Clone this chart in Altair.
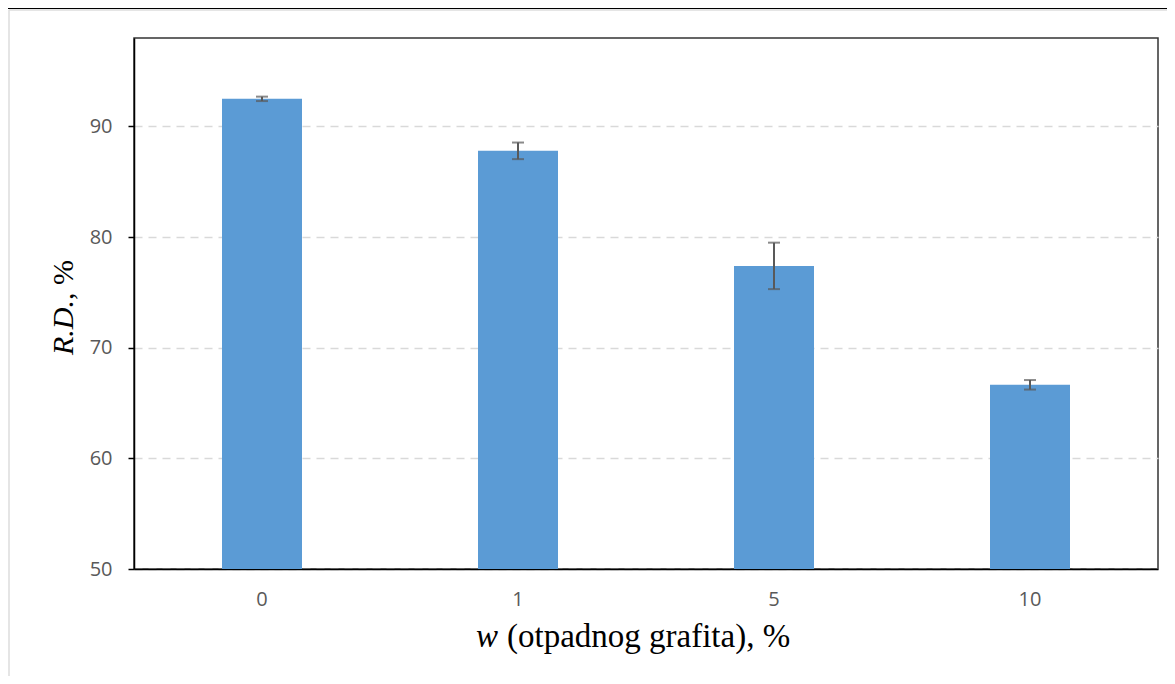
import altair as alt
import pandas as pd

# data
categories = ["0", "1", "5", "10"]
rd_values = [92.5, 87.8, 77.4, 66.65]
rd_errors = [0.2, 0.75, 2.1, 0.43]
y_ticks = [50, 60, 70, 80, 90]

df = pd.DataFrame({
    "cat": categories,
    "rd": rd_values,
    "lower": [v - e for v, e in zip(rd_values, rd_errors)],
    "upper": [v + e for v, e in zip(rd_values, rd_errors)],
})

W, H = 1024, 531
BAR = "#5b9bd5"
ERR = "#595959"

x_enc = alt.X(
    "cat:N", sort=categories, title=None,
    scale=alt.Scale(paddingInner=0.6875, paddingOuter=0.34375),
    axis=alt.Axis(labelAngle=0, ticks=False, tickSize=0, labelPadding=20,
                  labelFontSize=20, labelColor="#595959", labelFont="Open Sans",
                  domainColor="black", domainWidth=1.5, grid=False),
)
y_scale = alt.Scale(domain=[50, 98], nice=False, zero=False)
y_axis = alt.Axis(values=y_ticks, title=None, grid=True, gridColor="#d9d9d9",
                  gridDash=[8, 6], gridWidth=1.5, tickSize=6, tickColor="black",
                  tickWidth=1.5, labelPadding=16, labelFontSize=20,
                  labelColor="#595959", labelFont="Open Sans",
                  domainColor="black", domainWidth=1.5)

base = alt.Chart(df)

bars = base.mark_bar(color=BAR).encode(
    x=x_enc,
    y=alt.Y("rd:Q", scale=y_scale, axis=y_axis),
    y2=alt.datum(50),
)

err_rule = base.mark_rule(color=ERR, strokeWidth=2).encode(
    x=alt.X("cat:N", sort=categories),
    y=alt.Y("lower:Q", scale=y_scale),
    y2="upper:Q",
)
cap_hi = base.mark_tick(color=ERR, orient="horizontal", size=12, thickness=2).encode(
    x=alt.X("cat:N", sort=categories),
    y=alt.Y("upper:Q", scale=y_scale),
)
cap_lo = base.mark_tick(color=ERR, orient="horizontal", size=12, thickness=2).encode(
    x=alt.X("cat:N", sort=categories),
    y=alt.Y("lower:Q", scale=y_scale),
)

one = pd.DataFrame({"t": ["x"]})
# page decorations
top_line = alt.Chart(one).mark_rule(color="black", strokeWidth=2).encode(
    x=alt.value(-128), x2=alt.value(1045), y=alt.value(-30))
gray_h = alt.Chart(one).mark_rule(color="#dddddd", strokeWidth=1.5).encode(
    x=alt.value(-125), x2=alt.value(1045), y=alt.value(-28))
gray_v = alt.Chart(one).mark_rule(color="#dddddd", strokeWidth=1.5).encode(
    x=alt.value(-125), y=alt.value(-28), y2=alt.value(650))

# x title: italic "w" + normal rest
XJ = 364
xt_w = alt.Chart(pd.DataFrame({"t": ["w"]})).mark_text(
    font="Liberation Serif", fontSize=33, fontStyle="italic", align="right",
    baseline="alphabetic", color="black").encode(
    text="t:N", x=alt.value(XJ), y=alt.value(609))
xt_rest = alt.Chart(pd.DataFrame({"t": ["(otpadnog grafita), %"]})).mark_text(
    font="Liberation Serif", fontSize=33, align="left",
    baseline="alphabetic", color="black").encode(
    text="t:N", x=alt.value(XJ + 9), y=alt.value(609))

# y title: italic "R.D." + normal ", %"
YJ = 262
yt_rd = alt.Chart(pd.DataFrame({"t": ["R.D."]})).mark_text(
    font="Liberation Serif", fontSize=30, fontStyle="italic", align="right",
    baseline="alphabetic", angle=270, color="black").encode(
    text="t:N", x=alt.value(-61), y=alt.value(YJ))
yt_rest = alt.Chart(pd.DataFrame({"t": [",\u00a0%"]})).mark_text(
    font="Liberation Serif", fontSize=30, align="left",
    baseline="alphabetic", angle=270, color="black").encode(
    text="t:N", x=alt.value(-61), y=alt.value(YJ))

chart = alt.layer(
    bars, err_rule, cap_hi, cap_lo,
    top_line, gray_h, gray_v,
    xt_w, xt_rest, yt_rd, yt_rest,
).properties(
    width=W, height=H,
    autosize=alt.AutoSizeParams(type="none"),
    padding={"left": 126, "top": 30, "right": 9, "bottom": 107},
).configure(
    background="white",
    view=alt.ViewConfig(stroke="#333333", strokeWidth=1.5),
)

chart.save("out.html", embed_options={"renderer": "svg", "actions": False})
